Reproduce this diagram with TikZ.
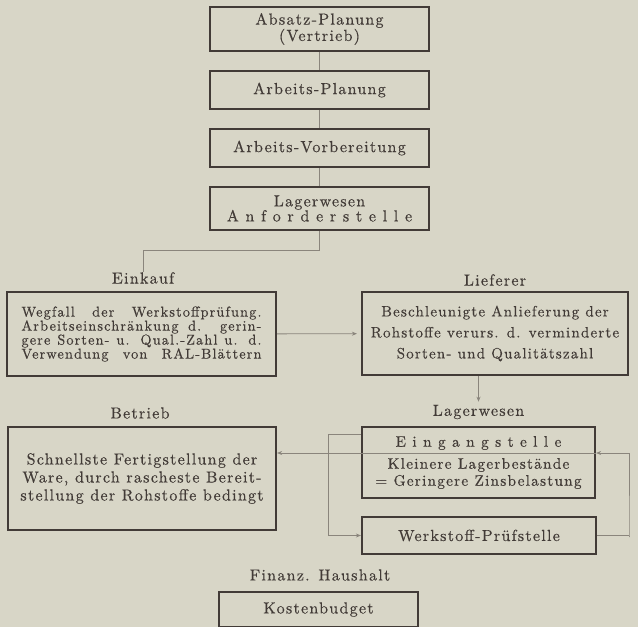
\documentclass[tikz,border=0pt]{standalone}
\usepackage{fontspec}
\setmainfont{lmroman10-regular.otf}[LetterSpace=8,FakeBold=0.35]
\usepackage{tikz}
\usetikzlibrary{arrows.meta,calc,positioning}
\definecolor{paper}{RGB}{216,214,199}
\definecolor{ink}{RGB}{66,59,55}
\definecolor{wire}{RGB}{138,133,124}
\tikzstyle{box}=[draw=ink,line width=2.2pt,text=ink,inner sep=0pt,align=center,font=\fontsize{16}{17}\selectfont]
\newcommand{\zeile}[1]{\makebox[240pt][s]{#1}}
\newcommand{\sperr}[1]{{\addfontfeature{LetterSpace=42}#1}}

\begin{document}
\begin{tikzpicture}[x=1pt,y=-1pt,>={Stealth[length=5pt,width=4pt]},
			lbl/.style={text=ink,inner sep=0pt,font=\fontsize{16}{17}\selectfont},
			wire/.style={draw=wire,line width=0.9pt}]
\useasboundingbox (0,0) rectangle (638,627);
\clip (0,0) rectangle (638,627);
\fill[paper] (0,0) rectangle (638,627);

\node (abs) at (319.5,29)[box,minimum width=219pt,minimum height=44pt,font=\fontsize{16}{14}\selectfont] {Absatz-Planung\\(Vertrieb)};
\node (plan) at (319.5,90)[box,minimum width=219pt,minimum height=38pt] {Arbeits-Planung};
\node (vorb) at (319.5,148)[box,minimum width=219pt,minimum height=38pt] {Arbeits-Vorbereitung};
\node (anf) at (319.5,208.5)[box,minimum width=219pt,minimum height=43pt,font=\fontsize{16}{15}\selectfont] {Lagerwesen\\\sperr{Anforderstelle}};

\node (lEink) at (143,278)[lbl] {Einkauf};
\node (eink) at (141.5,334)[box,minimum width=269pt,minimum height=84pt,font=\fontsize{14.3}{14}\selectfont] {\zeile{Wegfall der Werkstoffprüfung.}\\\zeile{Arbeitseinschränkung d. gerin-}\\\zeile{gere Sorten- u. Qual.-Zahl u. d.}\\\zeile{Verwendung von RAL-Blättern}};

\node (lLief) at (495,280)[lbl] {Lieferer};
\node (lief) at (495,333.5)[box,minimum width=266pt,minimum height=83pt,font=\fontsize{15}{21}\selectfont] {Beschleunigte Anlieferung der\\Rohstoffe verurs. d. verminderte\\Sorten- und Qualitätszahl};

\node (lBetr) at (140,413)[lbl] {Betrieb};
\node (betr) at (142,478.5)[box,minimum width=268pt,minimum height=103pt,font=\fontsize{16}{18}\selectfont] {Schnellste Fertigstellung der\\Ware, durch rascheste Bereit-\\stellung der Rohstoffe bedingt};

\node (lLag) at (478.5,412)[lbl] {Lagerwesen};
\node (eing) at (478.5,462.5)[box,minimum width=233pt,minimum height=71pt,font=\fontsize{15.3}{17}\selectfont] {\sperr{Eingangstelle}\\[5pt]Kleinere Lagerbestände\\= Geringere Zinsbelastung};
\node (werk) at (479,535.5)[box,minimum width=234pt,minimum height=37pt] {Werkstoff-Prüfstelle};

\node (lFin) at (320,575)[lbl] {Finanz. Haushalt};
\node (kost) at (318.5,609.5)[box,minimum width=199pt,minimum height=35pt] {Kostenbudget};

\coordinate (k1) at (319.5,250);
\coordinate (spl) at (478.5,453);
\coordinate (l1) at (328,434);
\coordinate (r1) at (629,537);

\draw[wire] (abs) -- (plan);
\draw[wire] (plan) -- (vorb);
\draw[wire] (vorb) -- (anf);
\draw[wire] (anf) -- (k1) -| (lEink);
\draw[wire,->,shorten >=4pt] (eink) -- (lief);
\draw[wire,->,shorten >=3pt] (lLag |- lief.south) -- (lLag);
\draw[wire,->] (eing.east |- spl) -- (betr.east |- spl);
\draw[wire] (werk.east) -- (r1 |- werk.east);
\draw[wire,->] (r1 |- werk.east) -- (r1) |- (eing.east |- spl);
\draw[wire,->] (eing.west |- l1) -- (l1) |- (werk.west);
\end{tikzpicture}
\end{document}
